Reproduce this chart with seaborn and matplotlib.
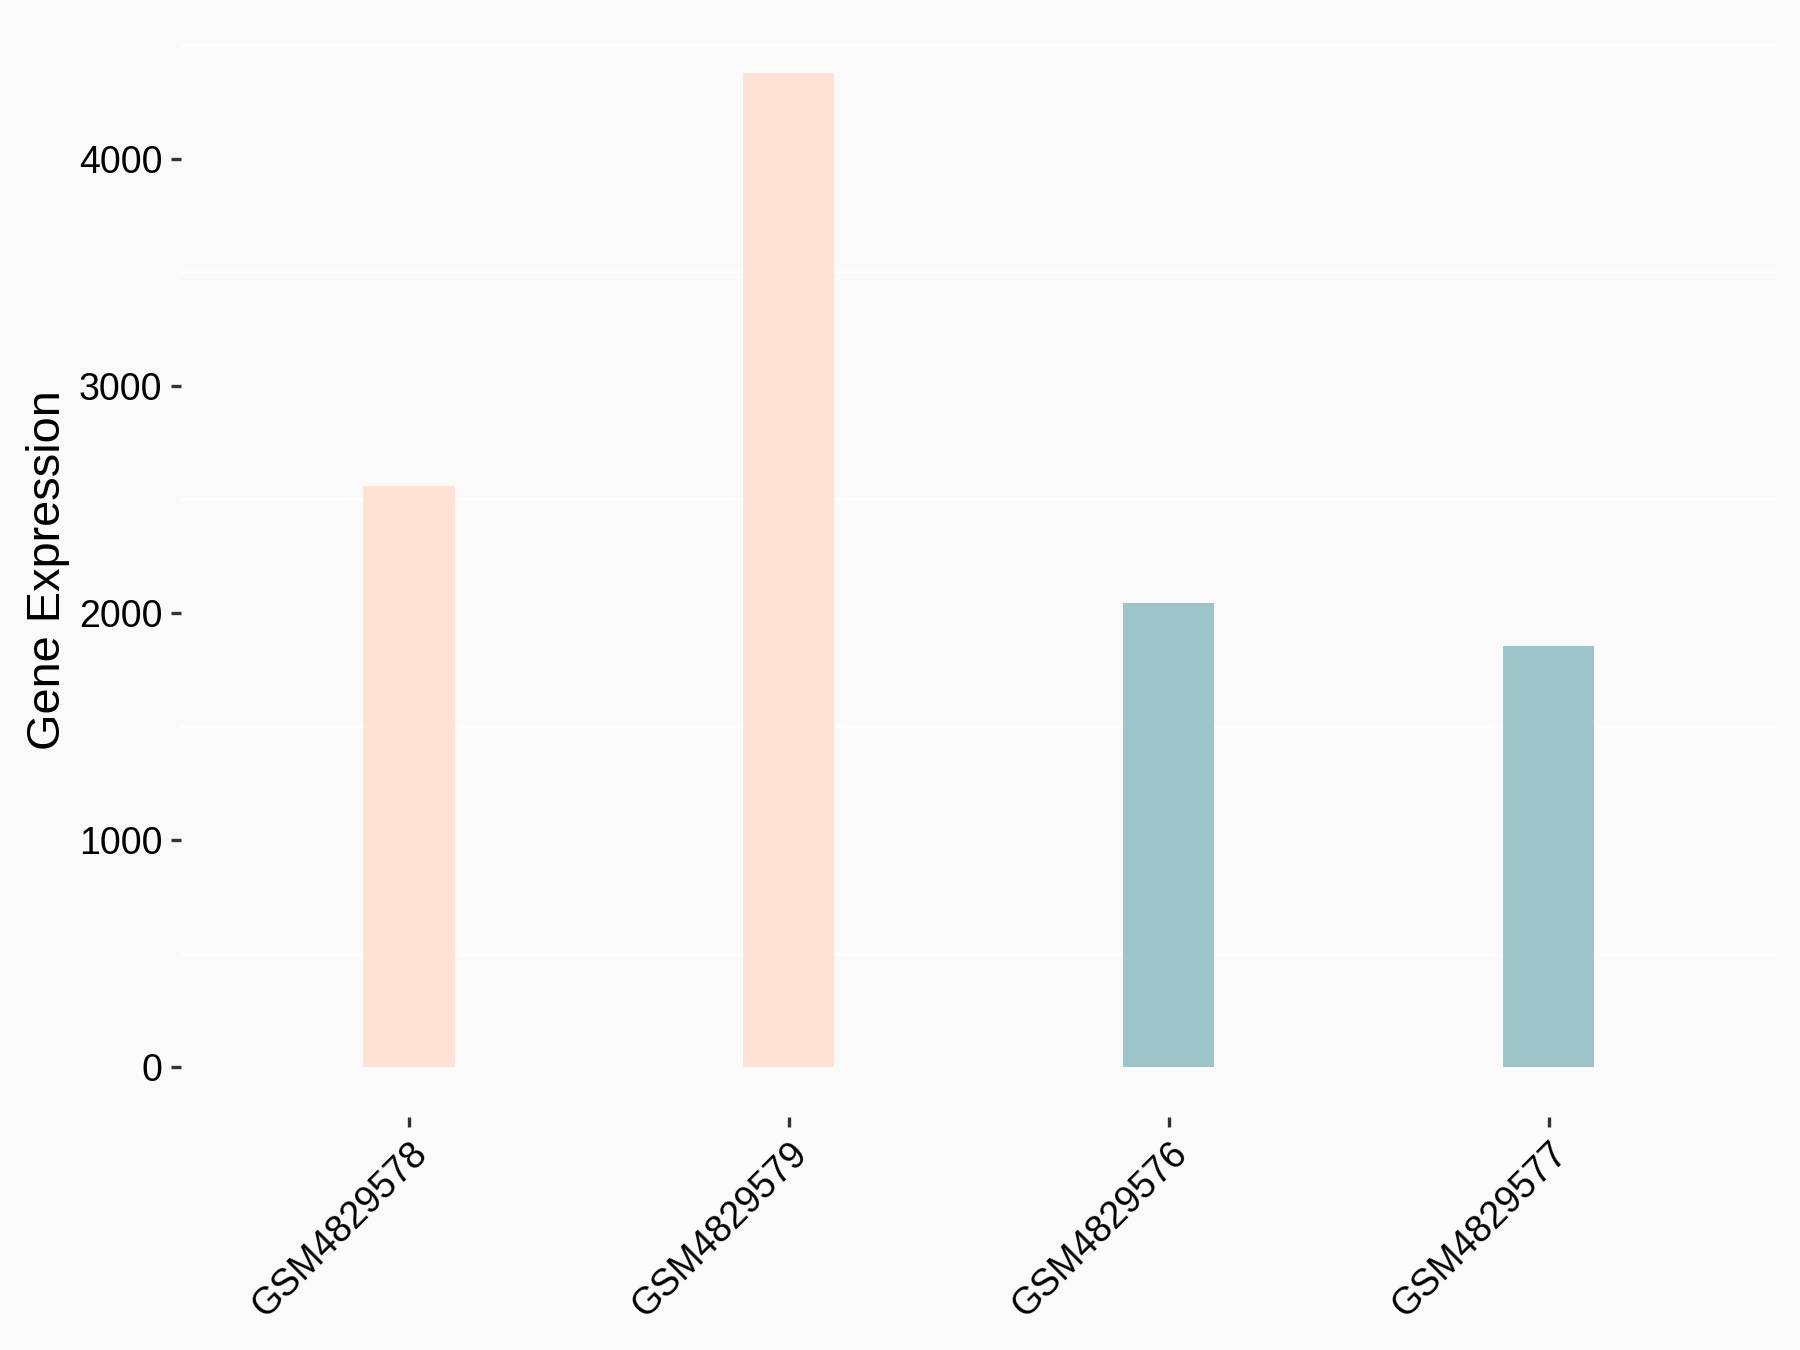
import numpy as np
import pandas as pd
import matplotlib
matplotlib.use("Agg")
import matplotlib.pyplot as plt
import seaborn as sns
from matplotlib.ticker import MultipleLocator

# --- Dane ---
samples = ["GSM4829578", "GSM4829579", "GSM4829576", "GSM4829577"]
expression = [2560, 4378, 2045, 1853]
groups = ["A", "A", "B", "B"]
group_colors = {"A": "#FFE1D6", "B": "#9DC4C8"}

df = pd.DataFrame({"sample": samples, "expr": expression, "group": groups})

# --- Styl ---
sns.set_style("white")
plt.rcParams["font.family"] = ["Liberation Sans", "DejaVu Sans"]

fig = plt.figure(figsize=(12, 9), dpi=150, facecolor="#FAFAFA")
ax = fig.add_axes([0.1006, 0.1726, 0.8864, 0.8104])
ax.set_facecolor("#FAFAFA")

sns.barplot(data=df, x="sample", y="expr", hue="group", palette=group_colors,
            dodge=False, width=0.24, legend=False, ax=ax, saturation=1,
            linewidth=0)

ax.set_xlim(-0.6, 3.6)
ax.set_ylim(-219, 4597)
ax.yaxis.set_major_locator(MultipleLocator(1000))
ax.yaxis.set_minor_locator(MultipleLocator(500))
ax.grid(False)
ax.grid(which="minor", axis="y", color="white", linewidth=1.2)
ax.set_axisbelow(True)
ax.tick_params(axis="y", which="minor", length=0)

for s in ax.spines.values():
    s.set_visible(False)

ax.tick_params(axis="both", which="major", bottom=True, left=True,
               length=5, width=1.6, color="#333333",
               labelsize=18, labelcolor="black", pad=4)
plt.setp(ax.get_xticklabels(), rotation=45, ha="right", rotation_mode="anchor")

ax.set_xlabel("")
ax.set_ylabel("Gene Expression", fontsize=22.5, labelpad=4, color="black")

fig.savefig("out.png", dpi=150, facecolor="#FAFAFA")
